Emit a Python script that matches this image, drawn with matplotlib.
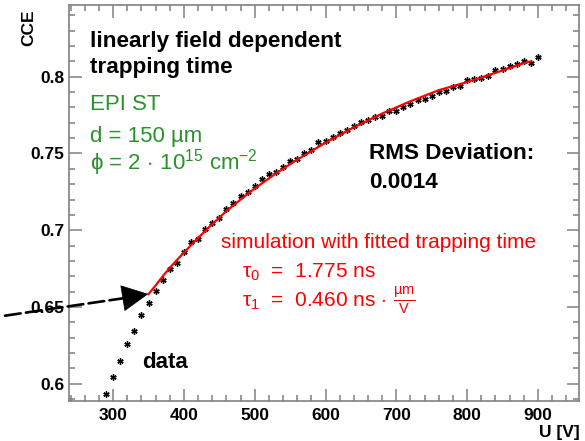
import matplotlib
matplotlib.use("Agg")
import matplotlib.pyplot as plt
from matplotlib.ticker import MultipleLocator, FuncFormatter

plt.rcParams['font.family'] = ['Liberation Sans', 'DejaVu Sans']
plt.rcParams['mathtext.fontset'] = 'custom'
plt.rcParams['mathtext.rm'] = 'Liberation Sans'
plt.rcParams['mathtext.it'] = 'Liberation Sans:italic'
plt.rcParams['mathtext.bf'] = 'Liberation Sans:bold'

# measured CCE vs bias voltage
u_data = list(range(290, 901, 10))
cce_data = [0.5936, 0.6044, 0.6151, 0.6258, 0.6345, 0.6445, 0.6527, 0.6606, 0.6673, 0.6749,
            0.6787, 0.6857, 0.6922, 0.6946, 0.7009, 0.7050, 0.7082, 0.7141, 0.7180, 0.7224,
            0.7250, 0.7287, 0.7333, 0.7369, 0.7379, 0.7413, 0.7448, 0.7465, 0.7500, 0.7524,
            0.7572, 0.7583, 0.7607, 0.7631, 0.7650, 0.7676, 0.7705, 0.7718, 0.7738, 0.7746,
            0.7774, 0.7774, 0.7800, 0.7824, 0.7850, 0.7857, 0.7875, 0.7898, 0.7905, 0.7933,
            0.7937, 0.7978, 0.7984, 0.7990, 0.8003, 0.8042, 0.8051, 0.8068, 0.8085, 0.8103,
            0.8087, 0.8127]

# simulation with fitted trapping time
u_sim = [350, 360, 370, 380, 400, 420, 440, 460, 480, 500, 530, 560, 600, 640, 680, 720,
         760, 800, 840, 880, 890]
cce_sim = [0.6584, 0.6640, 0.6700, 0.6755, 0.6855, 0.6950, 0.7040, 0.7125, 0.7200, 0.7272,
           0.7370, 0.7460, 0.7570, 0.7670, 0.7760, 0.7840, 0.7912, 0.7965, 0.8025, 0.8088,
           0.8100]

x_ticks = [300, 400, 500, 600, 700, 800, 900]
y_ticks = [0.6, 0.65, 0.7, 0.75, 0.8]

frame = '#808080'
green = '#2a922a'

fig = plt.figure(figsize=(5.85, 4.41), dpi=100)
ax = fig.add_axes([68.5 / 585, 40.3 / 441, 510.5 / 585, 396.2 / 441])

ax.plot(u_data, cce_data, ls='none', marker=(6, 2, 0), ms=4.5, color='black', mew=1.0, zorder=3)
ax.plot(u_sim, cce_sim, color='red', lw=1.6, zorder=4)

ax.set_xlim(237, 958)
ax.set_ylim(0.589, 0.847)
ax.set_xticks(x_ticks)
ax.set_yticks(y_ticks)
ax.xaxis.set_minor_locator(MultipleLocator(20))
ax.yaxis.set_minor_locator(MultipleLocator(0.01))
ax.yaxis.set_major_formatter(FuncFormatter(lambda v, p: '%g' % round(v, 3)))
ax.tick_params(which='both', direction='in', top=True, right=True, color=frame, width=1.1,
               labelsize=12.5, labelcolor='black')
ax.tick_params(which='major', length=9)
ax.tick_params(which='minor', length=4.5)
ax.tick_params(axis='y', pad=3)
ax.tick_params(axis='x', pad=5)
for lab in ax.get_xticklabels() + ax.get_yticklabels():
    lab.set_fontweight('bold')
for s in ax.spines.values():
    s.set_color(frame)
    s.set_linewidth(1.2)

fig.text(580 / 585, 4 / 441, 'U [V]', ha='right', va='baseline', fontsize=12.5, fontweight='bold')
fig.text(29 / 585, 1 - 9 / 441, 'CCE', rotation=90, ha='center', va='top', fontsize=12.5,
         fontweight='bold', family='Liberation Sans')

big = 16.2
ax.text(0.042, 0.8935, 'linearly field dependent', transform=ax.transAxes, fontsize=big, fontweight='bold')
ax.text(0.042, 0.8264, 'trapping time', transform=ax.transAxes, fontsize=big, fontweight='bold')
ax.text(0.042, 0.7337, 'EPI ST', transform=ax.transAxes, fontsize=16, color=green)
ax.text(0.042, 0.6537, 'd = 150 µm', transform=ax.transAxes, fontsize=16, color=green)
ax.text(0.042, 0.5823, r'ϕ = 2$\,\cdot\,$10$^{15}$ cm$^{-2}$', transform=ax.transAxes, fontsize=16, color=green)

ax.text(0.589, 0.6093, 'RMS Deviation:', transform=ax.transAxes, fontsize=big, fontweight='bold')
ax.text(0.589, 0.5361, '0.0014', transform=ax.transAxes, fontsize=big, fontweight='bold')

ax.text(0.2987, 0.3862, 'simulation with fitted trapping time', transform=ax.transAxes,
        fontsize=15, color='red')
ax.text(0.3393, 0.3097, r'τ$_0$  =  1.775 ns', transform=ax.transAxes, fontsize=15, color='red')
ax.text(0.3393, 0.2365, r'τ$_1$  =  0.460 ns$\,\cdot\,\frac{\mathrm{µm}}{\mathrm{V}}$', transform=ax.transAxes,
        fontsize=15, color='red')

ax.text(0.1434, 0.0818, 'data', transform=ax.transAxes, fontsize=16, fontweight='bold')

# dashed arrow pointing to the start of the simulation
ax.annotate('', xy=(123, 142.7), xycoords='figure pixels', xytext=(5, 125.3),
            textcoords='figure pixels',
            arrowprops=dict(arrowstyle='-', color='black', lw=1.9, linestyle=(0, (6, 2)),
                            shrinkA=0, shrinkB=0), annotation_clip=False)
ax.annotate('', xy=(148.3, 147), xycoords='figure pixels', xytext=(122, 142.7),
            textcoords='figure pixels',
            arrowprops=dict(arrowstyle='-|>,head_length=18,head_width=9', color='black',
                            mutation_scale=1, lw=0.5, shrinkA=0, shrinkB=0),
            annotation_clip=False)

fig.savefig('out.png', dpi=100)
